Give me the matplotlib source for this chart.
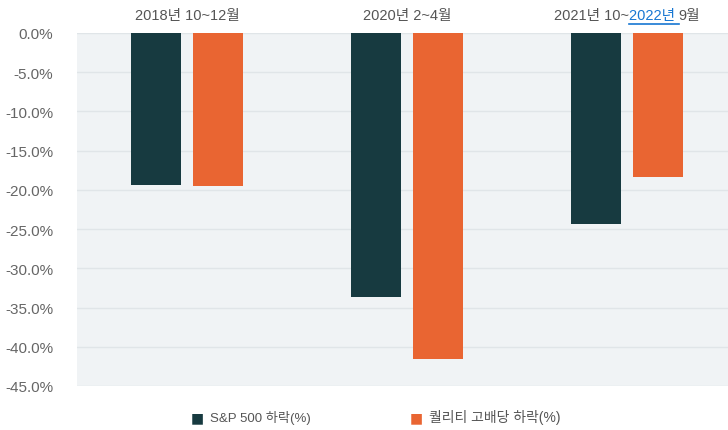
import matplotlib
matplotlib.use("Agg")
import matplotlib.pyplot as plt
import numpy as np

periods = ["2018년 10~12월", "2020년 2~4월", "2021년 10~2022년 9월"]
sp500 = [-19.4, -33.7, -24.4]
quality = [-19.5, -41.5, -18.4]
series_names = ["S&P 500 하락(%)", "퀄리티 고배당 하락(%)"]
yticks = [0, -5, -10, -15, -20, -25, -30, -35, -40, -45]

FAM = ["Liberation Sans", "Noto Sans CJK KR", "DejaVu Sans"]
plt.rcParams["font.family"] = FAM

W, H = 728, 431
fig = plt.figure(figsize=(W / 100, H / 100), dpi=100)
left_px, right_px, top_px, bot_px = 77, 737, 34, 387
ax = fig.add_axes([left_px / W, 1 - bot_px / H, (right_px - left_px) / W, (bot_px - top_px) / H])
ax.set_facecolor("#F0F3F5")

x = np.arange(len(periods))
bw = 0.227
off = 0.142
ax.bar(x - off, sp500, bw, color="#173A40", zorder=3)
ax.bar(x + off, quality, bw, color="#E96532", zorder=3)

ax.set_xlim(-0.5, 2.5)
ax.set_ylim(-45, 0)
ax.set_yticks(yticks)
ax.set_yticklabels([f"{v:.1f}%" for v in yticks], color="#666666", fontsize=11)
ax.tick_params(axis="y", length=0, pad=17)
ax.set_xticks([])
ax.grid(axis="y", color="#E0E5E8", linewidth=1, zorder=0)
for s in ax.spines.values():
    s.set_visible(False)

TFS = 10.5
ypos = 1.0 + 17.5 / (bot_px - top_px)
for i in range(2):
    ax.text(x[i], ypos, periods[i], transform=ax.get_xaxis_transform(),
            ha="center", va="center", fontsize=TFS, color="#555555")

# third label with hyperlink-styled part
fig.canvas.draw()
r = fig.canvas.get_renderer()
parts = [("2021년 10~", "#555555"), ("2022년 ", "#1877D2"), ("9월", "#555555")]
tmp = []
widths = []
for txt, c in parts:
    t = ax.text(0, ypos, txt, transform=ax.get_xaxis_transform(), fontsize=TFS, color=c,
                ha="left", va="center")
    bb = t.get_window_extent(r)
    widths.append(bb.width)
    tmp.append(t)
total = sum(widths)
cx_disp = ax.transData.transform((x[2], 0))[0]
start = cx_disp - total / 2
inv = ax.transData.inverted()
cur = start
for t, w in zip(tmp, widths):
    t.set_x(inv.transform((cur, 0))[0])
    cur += w
fig.canvas.draw()
bb = tmp[1].get_window_extent(r)
fig.add_artist(plt.Line2D([bb.x0 / W, bb.x1 / W], [(bb.y0 - 1) / H, (bb.y0 - 1) / H],
                          color="#1877D2", linewidth=1.2))

# legend
leg_y = 1 - 418 / H
for px, name, col, fs in [(197, series_names[0], "#173A40", 9.5), (416, series_names[1], "#E96532", 10)]:
    fig.text(px / W, leg_y, "■", fontsize=10, color=col, ha="center", va="center",
             family=["DejaVu Sans"])
    fig.text((px + 13) / W, leg_y, name, fontsize=fs, color="#555555", ha="left", va="center")

fig.savefig("out.png", dpi=100, facecolor="white")
